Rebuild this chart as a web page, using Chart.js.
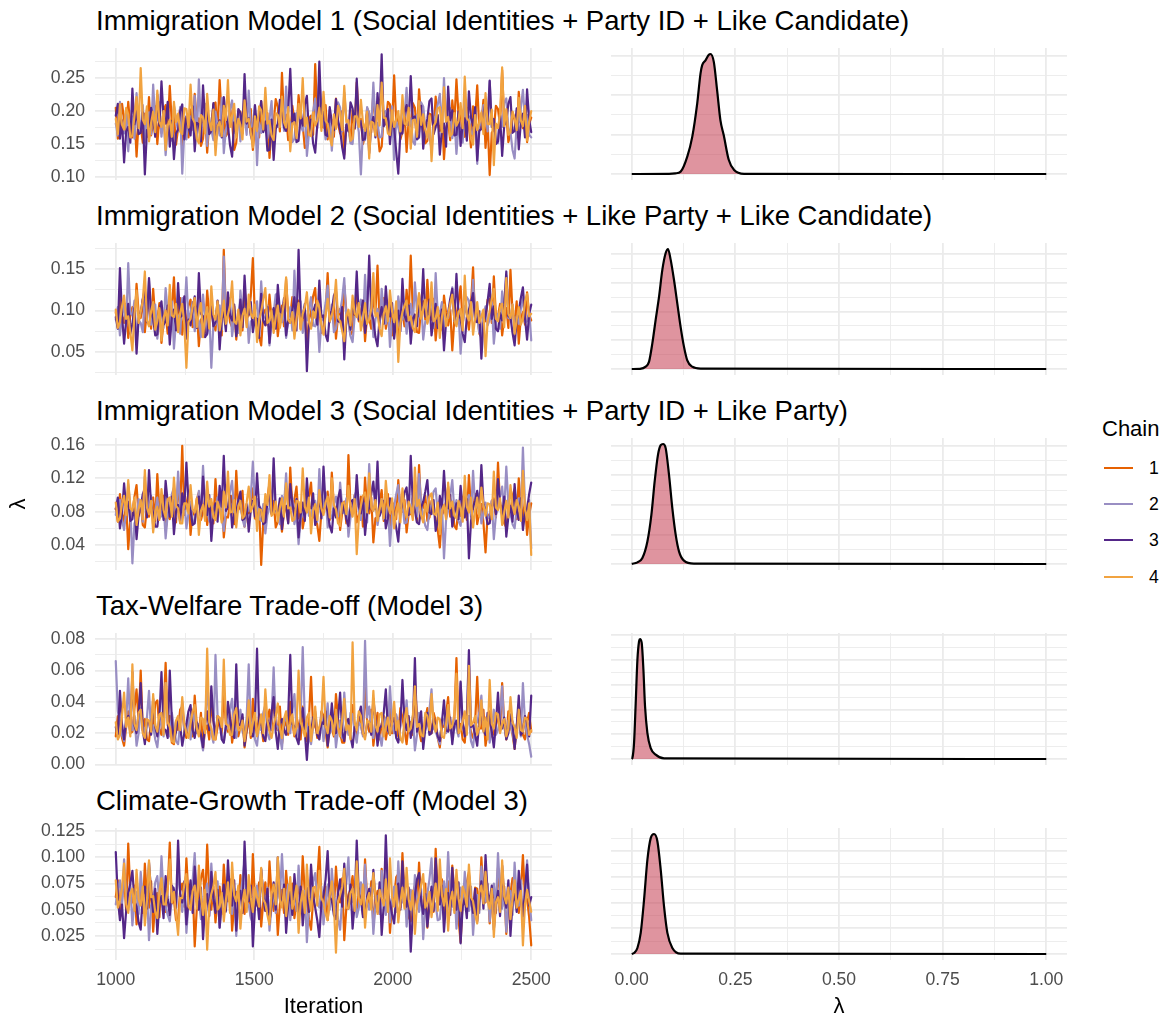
<!DOCTYPE html>
<html>
<head>
<meta charset="utf-8">
<title>MCMC traces and posterior densities of lambda</title>
<script src="https://cdn.jsdelivr.net/npm/chart.js@4.4.1/dist/chart.umd.min.js"></script>
<style>
  body { margin: 0; background: #fff; }
  #fig { position: relative; width: 1166px; height: 1017px; overflow: hidden;
         font-family: "Liberation Sans", Arial, Helvetica, sans-serif; color: #000; }
  #fig canvas { position: absolute; }
  .title { position: absolute; left: 96px; font-size: 27.5px; line-height: 30px; white-space: nowrap; }
  .axis-title { position: absolute; font-size: 22px; line-height: 26px; text-align: center; white-space: nowrap; }
  .legend-title { position: absolute; left: 1102px; top: 416px; font-size: 22px; line-height: 26px; }
  .legend-key { position: absolute; left: 1104px; width: 29px; height: 2px; }
  .legend-label { position: absolute; left: 1144px; width: 20px; text-align: center; font-size: 17.6px; line-height: 20px; }
</style>
</head>
<body>
<div id="fig"></div>
<script>
const chainColors = ["#e66101", "#998ec3", "#542788", "#f1a340"];
const chainNames = ["1", "2", "3", "4"];

const titles = [
  "Immigration Model 1 (Social Identities + Party ID + Like Candidate)",
  "Immigration Model 2 (Social Identities + Like Party + Like Candidate)",
  "Immigration Model 3 (Social Identities + Party ID + Like Party)",
  "Tax-Welfare Trade-off (Model 3)",
  "Climate-Growth Trade-off (Model 3)"
];

// thinned draws: one value every 7.5 iterations, 1000..2500 (201 per chain)
const iterations = [];
for (let it = 1000; it <= 2500; it += 7.5) iterations.push(it);

// ---- Immigration Model 1 ----
const m1c1 = [
0.205,0.158,0.172,0.211,0.188,0.165,0.214,0.176,0.160,0.199,0.131,0.184,0.178,0.152,0.196,0.170,0.221,0.163,0.183,0.207,
0.150,0.192,0.167,0.201,0.209,0.174,0.238,0.180,0.192,0.149,0.174,0.205,0.143,0.189,0.181,0.160,0.202,0.172,0.226,0.185,
0.189,0.147,0.158,0.197,0.137,0.182,0.176,0.210,0.213,0.168,0.247,0.190,0.195,0.162,0.168,0.206,0.184,0.141,0.152,0.193,
0.199,0.166,0.231,0.187,0.176,0.203,0.141,0.178,0.190,0.160,0.215,0.183,0.171,0.197,0.129,0.175,0.183,0.218,0.206,0.169,
0.258,0.186,0.194,0.156,0.162,0.208,0.185,0.170,0.224,0.191,0.179,0.144,0.148,0.188,0.193,0.164,0.271,0.195,0.212,0.177,
0.175,0.209,0.157,0.190,0.186,0.161,0.219,0.181,0.166,0.200,0.134,0.178,0.180,0.154,0.201,0.173,0.243,0.187,0.188,0.150,
0.163,0.204,0.197,0.168,0.228,0.185,0.173,0.139,0.146,0.192,0.182,0.214,0.210,0.176,0.254,0.183,0.191,0.157,0.169,0.199,
0.138,0.186,0.177,0.212,0.205,0.164,0.233,0.189,0.187,0.151,0.155,0.196,0.194,0.171,0.222,0.180,0.170,0.203,0.127,0.174,
0.184,0.156,0.216,0.182,0.248,0.193,0.198,0.162,0.161,0.205,0.178,0.145,0.207,0.188,0.239,0.172,0.181,0.217,0.144,0.186,
0.103,0.167,0.172,0.208,0.203,0.179,0.262,0.184,0.196,0.153,0.165,0.198,0.186,0.160,0.229,0.190,0.174,0.206,0.153,0.181,
0.190];
const m1c2 = [
0.181,0.163,0.214,0.178,0.166,0.201,0.139,0.187,0.192,0.158,0.227,0.180,0.175,0.209,0.152,0.190,0.198,0.165,0.240,0.184,
0.186,0.213,0.161,0.195,0.133,0.174,0.179,0.155,0.208,0.188,0.169,0.206,0.105,0.168,0.157,0.194,0.191,0.172,0.223,0.160,
0.248,0.182,0.184,0.211,0.147,0.190,0.172,0.156,0.199,0.178,0.163,0.220,0.136,0.171,0.185,0.203,0.216,0.167,0.173,0.196,
0.154,0.189,0.192,0.164,0.231,0.176,0.179,0.208,0.118,0.183,0.167,0.198,0.203,0.159,0.188,0.215,0.145,0.177,0.176,0.202,
0.212,0.170,0.237,0.185,0.183,0.153,0.158,0.197,0.195,0.178,0.170,0.210,0.132,0.166,0.181,0.199,0.219,0.174,0.252,0.187,
0.190,0.157,0.164,0.202,0.140,0.183,0.177,0.213,0.205,0.169,0.228,0.188,0.174,0.151,0.150,0.191,0.187,0.168,0.104,0.172,
0.156,0.206,0.196,0.175,0.243,0.181,0.182,0.160,0.161,0.197,0.200,0.173,0.171,0.207,0.126,0.185,0.175,0.163,0.211,0.192,
0.235,0.179,0.189,0.154,0.149,0.194,0.168,0.213,0.207,0.176,0.180,0.162,0.142,0.186,0.193,0.210,0.226,0.171,0.250,0.183,
0.185,0.204,0.159,0.190,0.135,0.177,0.173,0.152,0.214,0.184,0.192,0.166,0.165,0.201,0.120,0.180,0.178,0.209,0.204,0.169,
0.245,0.182,0.187,0.158,0.151,0.195,0.176,0.212,0.219,0.174,0.168,0.141,0.128,0.179,0.183,0.205,0.232,0.186,0.194,0.164,
0.160];
const m1c3 = [
0.193,0.211,0.158,0.186,0.122,0.169,0.176,0.152,0.234,0.180,0.201,0.165,0.167,0.198,0.104,0.171,0.159,0.205,0.188,0.161,
0.225,0.178,0.245,0.190,0.181,0.214,0.146,0.185,0.127,0.166,0.172,0.200,0.210,0.157,0.192,0.176,0.163,0.207,0.139,0.182,
0.180,0.154,0.239,0.188,0.207,0.165,0.170,0.212,0.149,0.177,0.186,0.160,0.221,0.194,0.178,0.148,0.131,0.183,0.166,0.203,
0.197,0.172,0.256,0.181,0.189,0.163,0.152,0.209,0.174,0.190,0.215,0.168,0.184,0.140,0.141,0.187,0.126,0.173,0.181,0.217,
0.203,0.175,0.170,0.199,0.264,0.184,0.196,0.153,0.155,0.192,0.178,0.210,0.223,0.167,0.187,0.151,0.137,0.179,0.275,0.189,
0.199,0.164,0.162,0.206,0.183,0.171,0.218,0.186,0.171,0.145,0.128,0.180,0.169,0.213,0.204,0.174,0.249,0.182,0.185,0.156,
0.158,0.197,0.136,0.178,0.191,0.160,0.227,0.188,0.286,0.177,0.182,0.203,0.150,0.185,0.175,0.139,0.105,0.168,0.166,0.198,
0.209,0.179,0.253,0.187,0.192,0.157,0.160,0.208,0.143,0.174,0.188,0.215,0.219,0.165,0.176,0.194,0.134,0.172,0.181,0.146,
0.237,0.186,0.201,0.163,0.164,0.199,0.147,0.181,0.189,0.155,0.230,0.190,0.178,0.206,0.125,0.170,0.173,0.196,0.212,0.184,
0.246,0.176,0.188,0.150,0.154,0.193,0.132,0.178,0.185,0.211,0.221,0.167,0.170,0.204,0.142,0.183,0.196,0.160,0.233,0.187,
0.168];
const m1c4 = [
0.188,0.165,0.210,0.179,0.172,0.205,0.195,0.160,0.163,0.193,0.221,0.174,0.265,0.187,0.180,0.207,0.154,0.182,0.199,0.168,
0.231,0.184,0.176,0.200,0.141,0.178,0.187,0.161,0.214,0.183,0.196,0.169,0.165,0.204,0.203,0.175,0.240,0.189,0.182,0.158,
0.151,0.194,0.190,0.166,0.226,0.185,0.171,0.202,0.133,0.177,0.184,0.162,0.208,0.186,0.247,0.176,0.193,0.211,0.160,0.188,
0.179,0.157,0.216,0.184,0.188,0.167,0.145,0.192,0.170,0.207,0.201,0.172,0.235,0.181,0.185,0.163,0.156,0.197,0.194,0.176,
0.222,0.183,0.175,0.206,0.139,0.180,0.183,0.159,0.211,0.189,0.250,0.177,0.190,0.164,0.162,0.198,0.178,0.186,0.205,0.170,
0.229,0.185,0.181,0.160,0.148,0.195,0.173,0.208,0.197,0.171,0.238,0.183,0.186,0.155,0.158,0.192,0.192,0.176,0.217,0.182,
0.170,0.199,0.128,0.184,0.182,0.163,0.209,0.178,0.243,0.190,0.189,0.166,0.164,0.201,0.176,0.187,0.200,0.169,0.224,0.181,
0.179,0.205,0.143,0.186,0.187,0.161,0.215,0.179,0.195,0.172,0.160,0.193,0.124,0.177,0.183,0.204,0.206,0.168,0.236,0.184,
0.191,0.162,0.166,0.197,0.178,0.185,0.212,0.174,0.252,0.189,0.185,0.158,0.149,0.194,0.171,0.183,0.198,0.165,0.227,0.180,
0.180,0.202,0.118,0.181,0.174,0.196,0.266,0.177,0.203,0.164,0.168,0.199,0.189,0.171,0.220,0.186,0.177,0.208,0.155,0.184,
0.200];

// ---- Immigration Model 2 ----
const m2c1 = [
0.098,0.079,0.121,0.093,0.085,0.108,0.067,0.095,0.104,0.082,0.132,0.097,0.091,0.113,0.074,0.101,0.110,0.078,0.126,0.090,
0.088,0.109,0.061,0.087,0.095,0.072,0.117,0.099,0.140,0.084,0.099,0.115,0.071,0.094,0.084,0.106,0.113,0.080,0.081,0.102,
0.057,0.089,0.092,0.074,0.124,0.096,0.103,0.083,0.076,0.111,0.089,0.070,0.173,0.098,0.109,0.086,0.080,0.105,0.065,0.093,
0.097,0.076,0.128,0.091,0.094,0.118,0.163,0.088,0.087,0.069,0.058,0.096,0.101,0.082,0.119,0.090,0.083,0.107,0.069,0.092,
0.106,0.081,0.138,0.095,0.093,0.116,0.072,0.100,0.112,0.078,0.086,0.104,0.054,0.089,0.098,0.117,0.127,0.085,0.104,0.073,
0.079,0.096,0.145,0.090,0.091,0.110,0.066,0.093,0.102,0.080,0.130,0.099,0.088,0.071,0.075,0.106,0.116,0.087,0.095,0.112,
0.063,0.094,0.090,0.078,0.121,0.097,0.154,0.086,0.100,0.115,0.078,0.092,0.108,0.070,0.085,0.103,0.059,0.088,0.096,0.081,
0.125,0.093,0.166,0.098,0.092,0.074,0.073,0.105,0.111,0.089,0.137,0.095,0.089,0.114,0.064,0.091,0.099,0.077,0.118,0.097,
0.082,0.101,0.052,0.090,0.094,0.110,0.129,0.084,0.105,0.096,0.077,0.107,0.152,0.088,0.097,0.072,0.068,0.099,0.087,0.113,
0.114,0.085,0.141,0.094,0.093,0.108,0.070,0.090,0.103,0.079,0.149,0.097,0.086,0.111,0.060,0.092,0.098,0.083,0.122,0.095,
0.088];
const m2c2 = [
0.089,0.104,0.070,0.092,0.109,0.081,0.157,0.097,0.094,0.112,0.063,0.088,0.085,0.074,0.118,0.096,0.136,0.083,0.092,0.107,
0.066,0.090,0.101,0.079,0.127,0.098,0.080,0.111,0.054,0.087,0.093,0.072,0.115,0.095,0.140,0.086,0.098,0.110,0.075,0.093,
0.087,0.068,0.119,0.091,0.071,0.099,0.031,0.084,0.083,0.102,0.106,0.077,0.165,0.094,0.100,0.115,0.069,0.089,0.090,0.073,
0.124,0.096,0.095,0.108,0.061,0.087,0.082,0.100,0.111,0.078,0.135,0.093,0.091,0.106,0.058,0.085,0.097,0.119,0.121,0.089,
0.086,0.101,0.067,0.088,0.104,0.076,0.148,0.095,0.096,0.111,0.073,0.090,0.088,0.102,0.116,0.082,0.081,0.098,0.050,0.087,
0.092,0.109,0.130,0.086,0.107,0.074,0.078,0.097,0.099,0.114,0.139,0.091,0.087,0.069,0.062,0.093,0.094,0.105,0.113,0.082,
0.143,0.094,0.090,0.112,0.068,0.089,0.102,0.079,0.126,0.097,0.084,0.108,0.056,0.090,0.095,0.075,0.117,0.096,0.089,0.104,
0.072,0.091,0.108,0.083,0.134,0.099,0.093,0.113,0.065,0.087,0.086,0.101,0.120,0.079,0.145,0.095,0.097,0.110,0.074,0.092,
0.091,0.106,0.128,0.088,0.083,0.099,0.048,0.085,0.100,0.116,0.112,0.090,0.137,0.096,0.092,0.073,0.069,0.094,0.105,0.082,
0.089,0.110,0.060,0.087,0.096,0.078,0.123,0.098,0.142,0.091,0.090,0.107,0.071,0.093,0.084,0.102,0.115,0.086,0.087,0.100,
0.064];
const m2c3 = [
0.092,0.078,0.151,0.095,0.060,0.088,0.108,0.072,0.084,0.103,0.048,0.091,0.097,0.114,0.125,0.086,0.139,0.098,0.090,0.070,
0.071,0.100,0.111,0.083,0.087,0.106,0.059,0.093,0.101,0.076,0.133,0.092,0.094,0.117,0.066,0.089,0.082,0.102,0.117,0.079,
0.145,0.096,0.093,0.068,0.072,0.099,0.105,0.081,0.086,0.112,0.053,0.090,0.098,0.075,0.122,0.094,0.088,0.107,0.069,0.087,
0.113,0.080,0.142,0.097,0.095,0.110,0.074,0.091,0.090,0.067,0.120,0.088,0.082,0.104,0.061,0.093,0.103,0.078,0.131,0.099,
0.097,0.115,0.070,0.089,0.085,0.101,0.116,0.076,0.173,0.094,0.091,0.108,0.027,0.085,0.080,0.098,0.107,0.083,0.136,0.092,
0.094,0.071,0.063,0.096,0.099,0.118,0.124,0.087,0.086,0.104,0.041,0.090,0.092,0.077,0.110,0.095,0.147,0.089,0.096,0.112,
0.073,0.093,0.166,0.098,0.089,0.068,0.057,0.091,0.104,0.084,0.129,0.097,0.093,0.109,0.066,0.088,0.100,0.075,0.138,0.094,
0.087,0.106,0.060,0.090,0.095,0.081,0.119,0.096,0.150,0.093,0.091,0.113,0.070,0.089,0.108,0.079,0.083,0.101,0.052,0.086,
0.097,0.114,0.126,0.088,0.144,0.095,0.090,0.072,0.062,0.092,0.101,0.109,0.121,0.087,0.086,0.099,0.042,0.084,0.094,0.111,
0.132,0.090,0.105,0.078,0.075,0.097,0.088,0.106,0.147,0.093,0.092,0.073,0.058,0.089,0.099,0.115,0.128,0.091,0.065,0.096,
0.107];
const m2c4 = [
0.101,0.079,0.086,0.105,0.118,0.090,0.093,0.074,0.052,0.096,0.124,0.085,0.098,0.112,0.147,0.088,0.081,0.099,0.110,0.077,
0.087,0.103,0.064,0.091,0.100,0.082,0.131,0.094,0.092,0.108,0.074,0.097,0.108,0.083,0.031,0.086,0.090,0.104,0.115,0.080,
0.097,0.109,0.068,0.092,0.104,0.078,0.129,0.095,0.089,0.111,0.076,0.093,0.112,0.084,0.095,0.106,0.135,0.087,0.084,0.101,
0.070,0.094,0.102,0.080,0.119,0.096,0.091,0.107,0.062,0.088,0.099,0.113,0.127,0.085,0.088,0.100,0.073,0.092,0.106,0.079,
0.093,0.110,0.140,0.089,0.085,0.098,0.066,0.090,0.109,0.077,0.096,0.104,0.122,0.086,0.078,0.099,0.091,0.112,0.103,0.083,
0.071,0.095,0.114,0.087,0.094,0.106,0.137,0.091,0.087,0.075,0.063,0.094,0.101,0.082,0.118,0.097,0.092,0.109,0.076,0.090,
0.109,0.084,0.089,0.102,0.145,0.093,0.097,0.078,0.069,0.096,0.105,0.087,0.124,0.099,0.086,0.111,0.038,0.085,0.098,0.106,
0.112,0.088,0.093,0.079,0.074,0.100,0.121,0.090,0.101,0.113,0.084,0.095,0.134,0.087,0.090,0.104,0.067,0.092,0.107,0.081,
0.095,0.108,0.119,0.089,0.081,0.098,0.102,0.076,0.142,0.094,0.088,0.110,0.071,0.091,0.110,0.085,0.093,0.101,0.045,0.087,
0.099,0.114,0.126,0.090,0.087,0.103,0.108,0.080,0.139,0.096,0.091,0.107,0.072,0.089,0.104,0.083,0.090,0.111,0.120,0.093,
0.096];

// ---- Immigration Model 3 ----
const m3c1 = [
0.084,0.068,0.101,0.079,0.066,0.092,0.035,0.071,0.079,0.098,0.112,0.075,0.090,0.064,0.061,0.086,0.074,0.094,0.097,0.069,
0.125,0.082,0.083,0.099,0.058,0.077,0.071,0.093,0.094,0.067,0.117,0.081,0.159,0.076,0.088,0.103,0.052,0.080,0.076,0.095,
0.103,0.070,0.080,0.096,0.064,0.083,0.091,0.066,0.119,0.078,0.085,0.101,0.049,0.074,0.073,0.090,0.099,0.065,0.129,0.082,
0.087,0.105,0.062,0.079,0.078,0.093,0.108,0.072,0.070,0.087,0.016,0.068,0.082,0.097,0.114,0.077,0.093,0.061,0.068,0.084,
0.056,0.080,0.086,0.067,0.133,0.083,0.095,0.110,0.072,0.089,0.060,0.075,0.089,0.098,0.115,0.073,0.079,0.064,0.045,0.081,
0.081,0.096,0.104,0.070,0.127,0.087,0.076,0.092,0.058,0.079,0.092,0.066,0.148,0.085,0.084,0.100,0.067,0.076,0.098,0.062,
0.121,0.083,0.078,0.097,0.043,0.072,0.074,0.089,0.106,0.069,0.087,0.101,0.063,0.080,0.090,0.071,0.118,0.085,0.080,0.094,
0.055,0.078,0.077,0.096,0.102,0.068,0.136,0.082,0.085,0.099,0.069,0.073,0.093,0.087,0.071,0.058,0.037,0.076,0.081,0.092,
0.110,0.074,0.088,0.063,0.059,0.086,0.075,0.097,0.101,0.070,0.124,0.084,0.083,0.101,0.065,0.079,0.089,0.067,0.031,0.077,
0.072,0.093,0.096,0.073,0.139,0.088,0.086,0.066,0.061,0.082,0.078,0.099,0.107,0.071,0.120,0.085,0.074,0.093,0.052,0.076,
0.090];
const m3c2 = [
0.076,0.092,0.094,0.070,0.058,0.081,0.113,0.087,0.018,0.066,0.071,0.095,0.089,0.068,0.122,0.084,0.082,0.099,0.063,0.079,
0.097,0.072,0.075,0.090,0.048,0.077,0.086,0.101,0.109,0.074,0.128,0.085,0.079,0.093,0.060,0.078,0.092,0.067,0.070,0.088,
0.105,0.080,0.135,0.091,0.084,0.069,0.066,0.086,0.078,0.097,0.100,0.073,0.057,0.082,0.088,0.104,0.117,0.079,0.073,0.094,
0.091,0.071,0.062,0.083,0.081,0.098,0.140,0.086,0.095,0.072,0.069,0.089,0.054,0.076,0.085,0.100,0.111,0.081,0.077,0.065,
0.099,0.087,0.126,0.079,0.083,0.096,0.065,0.078,0.041,0.070,0.080,0.093,0.102,0.075,0.074,0.088,0.093,0.068,0.131,0.083,
0.087,0.103,0.061,0.077,0.072,0.090,0.098,0.074,0.115,0.086,0.078,0.096,0.050,0.073,0.084,0.099,0.106,0.080,0.070,0.091,
0.089,0.067,0.137,0.085,0.081,0.094,0.064,0.079,0.095,0.071,0.073,0.088,0.039,0.075,0.086,0.101,0.112,0.078,0.090,0.066,
0.067,0.084,0.079,0.097,0.103,0.074,0.125,0.089,0.076,0.063,0.058,0.082,0.088,0.104,0.108,0.077,0.071,0.092,0.024,0.070,
0.082,0.099,0.118,0.080,0.094,0.069,0.063,0.087,0.077,0.095,0.100,0.074,0.129,0.086,0.085,0.102,0.066,0.079,0.091,0.072,
0.074,0.093,0.047,0.076,0.083,0.098,0.110,0.081,0.134,0.089,0.078,0.065,0.060,0.084,0.096,0.075,0.157,0.087,0.072,0.094,
0.036];
const m3c3 = [
0.083,0.097,0.060,0.078,0.114,0.085,0.092,0.069,0.071,0.090,0.047,0.076,0.086,0.101,0.108,0.073,0.130,0.088,0.078,0.062,
0.062,0.084,0.095,0.070,0.117,0.091,0.074,0.098,0.053,0.080,0.088,0.067,0.102,0.083,0.139,0.092,0.081,0.064,0.066,0.087,
0.098,0.075,0.122,0.089,0.076,0.100,0.045,0.079,0.090,0.068,0.111,0.086,0.147,0.081,0.085,0.099,0.061,0.077,0.079,0.094,
0.104,0.070,0.072,0.089,0.056,0.082,0.093,0.074,0.126,0.087,0.082,0.065,0.067,0.091,0.100,0.078,0.144,0.083,0.077,0.096,
0.059,0.081,0.087,0.066,0.113,0.090,0.075,0.095,0.049,0.076,0.091,0.069,0.120,0.085,0.084,0.102,0.064,0.079,0.097,0.072,
0.134,0.088,0.080,0.063,0.055,0.084,0.073,0.096,0.106,0.078,0.089,0.071,0.063,0.092,0.094,0.080,0.124,0.086,0.078,0.098,
0.052,0.079,0.085,0.101,0.116,0.083,0.140,0.075,0.082,0.093,0.060,0.072,0.096,0.088,0.074,0.061,0.044,0.080,0.088,0.103,
0.109,0.076,0.147,0.090,0.081,0.067,0.065,0.085,0.092,0.104,0.118,0.079,0.077,0.094,0.057,0.070,0.099,0.083,0.129,0.087,
0.084,0.100,0.062,0.078,0.090,0.071,0.111,0.086,0.073,0.095,0.024,0.068,0.086,0.093,0.105,0.076,0.136,0.089,0.080,0.065,
0.066,0.085,0.094,0.077,0.119,0.091,0.076,0.098,0.050,0.074,0.087,0.068,0.113,0.082,0.070,0.096,0.058,0.079,0.083,0.101,
0.115];
const m3c4 = [
0.091,0.068,0.072,0.089,0.099,0.076,0.118,0.084,0.081,0.097,0.064,0.083,0.094,0.071,0.130,0.085,0.077,0.093,0.055,0.080,
0.086,0.070,0.107,0.082,0.073,0.095,0.097,0.074,0.121,0.087,0.084,0.066,0.066,0.090,0.090,0.078,0.112,0.083,0.079,0.096,
0.052,0.081,0.088,0.069,0.116,0.086,0.095,0.073,0.070,0.092,0.083,0.067,0.104,0.085,0.128,0.079,0.080,0.094,0.061,0.087,
0.093,0.072,0.075,0.091,0.110,0.080,0.087,0.098,0.057,0.083,0.082,0.068,0.101,0.088,0.124,0.075,0.078,0.092,0.068,0.085,
0.096,0.074,0.114,0.084,0.085,0.069,0.071,0.093,0.092,0.079,0.132,0.086,0.079,0.097,0.054,0.081,0.089,0.070,0.106,0.084,
0.076,0.091,0.098,0.073,0.120,0.088,0.083,0.066,0.063,0.090,0.091,0.077,0.111,0.085,0.074,0.095,0.029,0.072,0.087,0.099,
0.103,0.079,0.126,0.086,0.081,0.094,0.069,0.083,0.095,0.072,0.117,0.088,0.078,0.096,0.060,0.080,0.090,0.067,0.108,0.084,
0.073,0.092,0.085,0.070,0.133,0.087,0.094,0.076,0.067,0.089,0.080,0.098,0.102,0.078,0.076,0.091,0.053,0.082,0.088,0.071,
0.115,0.084,0.092,0.075,0.072,0.093,0.084,0.068,0.123,0.086,0.079,0.097,0.061,0.081,0.097,0.074,0.109,0.088,0.075,0.090,
0.089,0.071,0.128,0.085,0.082,0.096,0.064,0.079,0.093,0.073,0.112,0.087,0.077,0.094,0.086,0.069,0.129,0.083,0.070,0.090,
0.028];

// ---- Tax-Welfare Trade-off ----
const m4c1 = [
0.018,0.031,0.026,0.017,0.012,0.024,0.034,0.020,0.021,0.036,0.048,0.027,0.060,0.022,0.029,0.016,0.015,0.028,0.023,0.039,
0.041,0.023,0.019,0.032,0.065,0.025,0.031,0.014,0.013,0.027,0.022,0.035,0.037,0.021,0.017,0.030,0.027,0.018,0.044,0.025,
0.020,0.033,0.010,0.022,0.025,0.016,0.039,0.028,0.016,0.024,0.029,0.019,0.046,0.026,0.021,0.034,0.014,0.023,0.033,0.018,
0.024,0.030,0.011,0.021,0.030,0.017,0.042,0.026,0.019,0.032,0.026,0.015,0.016,0.029,0.035,0.022,0.048,0.025,0.022,0.037,
0.013,0.024,0.028,0.019,0.040,0.027,0.018,0.031,0.024,0.016,0.037,0.022,0.015,0.030,0.056,0.023,0.027,0.017,0.019,0.034,
0.031,0.021,0.011,0.026,0.023,0.018,0.045,0.029,0.020,0.014,0.014,0.027,0.029,0.021,0.038,0.024,0.017,0.032,0.025,0.019,
0.050,0.028,0.021,0.035,0.012,0.023,0.033,0.016,0.026,0.031,0.016,0.024,0.041,0.020,0.023,0.028,0.018,0.036,0.030,0.022,
0.013,0.026,0.027,0.019,0.053,0.030,0.022,0.015,0.015,0.029,0.036,0.021,0.020,0.033,0.028,0.017,0.011,0.025,0.024,0.032,
0.043,0.022,0.019,0.029,0.068,0.024,0.026,0.016,0.014,0.031,0.031,0.020,0.017,0.027,0.056,0.023,0.023,0.035,0.012,0.021,
0.034,0.018,0.020,0.030,0.028,0.022,0.052,0.026,0.016,0.034,0.025,0.019,0.010,0.024,0.038,0.029,0.019,0.016,0.027,0.033,
0.021];
const m4c2 = [
0.066,0.034,0.028,0.019,0.015,0.027,0.055,0.023,0.022,0.031,0.012,0.020,0.036,0.025,0.019,0.030,0.047,0.021,0.025,0.016,
0.011,0.024,0.030,0.018,0.052,0.028,0.018,0.033,0.024,0.015,0.013,0.026,0.040,0.022,0.021,0.032,0.016,0.027,0.033,0.020,
0.026,0.017,0.009,0.025,0.051,0.029,0.020,0.014,0.070,0.031,0.029,0.019,0.014,0.026,0.023,0.035,0.042,0.022,0.017,0.028,
0.035,0.021,0.019,0.030,0.064,0.024,0.027,0.016,0.012,0.026,0.022,0.033,0.038,0.020,0.016,0.029,0.062,0.025,0.024,0.018,
0.010,0.027,0.031,0.022,0.020,0.034,0.045,0.023,0.018,0.030,0.075,0.028,0.026,0.017,0.013,0.024,0.034,0.021,0.021,0.032,
0.015,0.025,0.039,0.020,0.023,0.031,0.011,0.022,0.028,0.017,0.046,0.026,0.019,0.033,0.032,0.021,0.014,0.027,0.025,0.018,
0.079,0.030,0.037,0.023,0.017,0.028,0.022,0.019,0.012,0.025,0.030,0.021,0.050,0.027,0.020,0.032,0.027,0.016,0.015,0.024,
0.041,0.022,0.024,0.031,0.009,0.019,0.033,0.026,0.018,0.022,0.026,0.035,0.048,0.023,0.021,0.017,0.013,0.028,0.029,0.020,
0.037,0.025,0.016,0.029,0.023,0.018,0.052,0.027,0.019,0.024,0.031,0.015,0.011,0.026,0.027,0.033,0.044,0.021,0.020,0.029,
0.014,0.023,0.035,0.019,0.022,0.030,0.050,0.024,0.017,0.028,0.026,0.020,0.012,0.025,0.030,0.018,0.052,0.027,0.019,0.013,
0.005];
const m4c3 = [
0.024,0.018,0.047,0.026,0.016,0.029,0.031,0.021,0.059,0.025,0.020,0.033,0.052,0.022,0.013,0.027,0.027,0.019,0.042,0.024,
0.018,0.030,0.059,0.023,0.022,0.017,0.060,0.028,0.015,0.021,0.030,0.025,0.012,0.020,0.026,0.034,0.038,0.022,0.017,0.027,
0.023,0.019,0.011,0.026,0.034,0.022,0.050,0.028,0.019,0.031,0.028,0.016,0.014,0.024,0.040,0.029,0.021,0.017,0.064,0.026,
0.025,0.032,0.012,0.023,0.033,0.020,0.018,0.028,0.074,0.025,0.027,0.018,0.015,0.029,0.022,0.033,0.043,0.021,0.010,0.026,
0.029,0.022,0.019,0.031,0.070,0.026,0.024,0.017,0.013,0.028,0.036,0.021,0.003,0.024,0.021,0.030,0.032,0.019,0.016,0.027,
0.026,0.034,0.012,0.022,0.039,0.025,0.020,0.030,0.046,0.021,0.015,0.028,0.029,0.018,0.011,0.024,0.023,0.031,0.037,0.020,
0.018,0.026,0.027,0.019,0.042,0.029,0.012,0.023,0.025,0.033,0.048,0.022,0.019,0.027,0.030,0.017,0.014,0.025,0.054,0.028,
0.022,0.031,0.017,0.024,0.068,0.021,0.026,0.034,0.010,0.023,0.033,0.019,0.020,0.029,0.024,0.018,0.015,0.027,0.041,0.022,
0.021,0.030,0.013,0.025,0.028,0.020,0.053,0.026,0.018,0.031,0.073,0.024,0.025,0.019,0.012,0.028,0.035,0.022,0.019,0.033,
0.029,0.021,0.011,0.026,0.046,0.023,0.023,0.030,0.016,0.020,0.032,0.027,0.010,0.024,0.044,0.019,0.021,0.031,0.027,0.018,
0.044];
const m4c4 = [
0.027,0.016,0.019,0.031,0.046,0.024,0.030,0.018,0.064,0.026,0.022,0.033,0.035,0.020,0.017,0.029,0.028,0.021,0.045,0.025,
0.021,0.032,0.033,0.019,0.052,0.027,0.024,0.015,0.014,0.028,0.031,0.022,0.043,0.026,0.020,0.017,0.026,0.034,0.038,0.023,
0.018,0.030,0.029,0.020,0.074,0.027,0.023,0.016,0.016,0.031,0.030,0.024,0.067,0.026,0.025,0.019,0.019,0.032,0.036,0.022,
0.022,0.028,0.015,0.025,0.041,0.019,0.027,0.033,0.018,0.024,0.032,0.020,0.048,0.028,0.021,0.017,0.025,0.031,0.039,0.023,
0.017,0.029,0.034,0.021,0.026,0.032,0.019,0.024,0.060,0.027,0.023,0.018,0.030,0.033,0.015,0.026,0.037,0.020,0.024,0.030,
0.056,0.025,0.020,0.031,0.028,0.019,0.035,0.023,0.018,0.029,0.042,0.022,0.025,0.016,0.078,0.027,0.022,0.034,0.031,0.020,
0.016,0.028,0.027,0.021,0.047,0.025,0.021,0.032,0.033,0.018,0.024,0.030,0.019,0.026,0.040,0.022,0.028,0.017,0.014,0.029,
0.036,0.021,0.023,0.031,0.050,0.024,0.026,0.019,0.018,0.033,0.031,0.022,0.045,0.027,0.021,0.030,0.029,0.018,0.017,0.026,
0.038,0.023,0.025,0.032,0.058,0.020,0.022,0.028,0.034,0.019,0.063,0.025,0.027,0.031,0.019,0.024,0.041,0.021,0.030,0.016,
0.054,0.026,0.023,0.033,0.032,0.020,0.026,0.029,0.018,0.023,0.043,0.027,0.024,0.017,0.035,0.022,0.021,0.030,0.029,0.019,
0.022];

// ---- Climate-Growth Trade-off ----
const m5c1 = [
0.062,0.078,0.045,0.059,0.081,0.049,0.113,0.066,0.057,0.073,0.036,0.055,0.070,0.047,0.094,0.061,0.052,0.077,0.029,0.058,
0.066,0.043,0.085,0.064,0.048,0.071,0.114,0.056,0.060,0.040,0.041,0.068,0.075,0.053,0.099,0.062,0.055,0.074,0.015,0.051,
0.063,0.080,0.088,0.057,0.112,0.065,0.050,0.072,0.038,0.060,0.072,0.046,0.093,0.063,0.058,0.079,0.030,0.054,0.067,0.048,
0.083,0.061,0.046,0.070,0.061,0.044,0.103,0.059,0.054,0.076,0.034,0.057,0.076,0.050,0.096,0.064,0.049,0.069,0.026,0.055,
0.069,0.047,0.087,0.062,0.056,0.075,0.042,0.058,0.079,0.050,0.101,0.066,0.059,0.041,0.031,0.060,0.065,0.078,0.110,0.057,
0.053,0.072,0.040,0.061,0.074,0.049,0.091,0.063,0.057,0.080,0.021,0.052,0.064,0.070,0.082,0.056,0.047,0.068,0.071,0.045,
0.098,0.060,0.055,0.077,0.035,0.058,0.068,0.046,0.089,0.062,0.051,0.073,0.028,0.055,0.062,0.081,0.084,0.052,0.104,0.064,
0.058,0.043,0.039,0.066,0.073,0.051,0.095,0.060,0.052,0.075,0.033,0.057,0.066,0.048,0.108,0.063,0.060,0.079,0.044,0.061,
0.077,0.054,0.092,0.068,0.054,0.041,0.019,0.059,0.063,0.076,0.086,0.057,0.048,0.071,0.070,0.050,0.100,0.063,0.057,0.074,
0.037,0.059,0.069,0.047,0.090,0.064,0.053,0.072,0.027,0.055,0.065,0.080,0.081,0.058,0.047,0.068,0.102,0.061,0.060,0.043,
0.016];
const m5c2 = [
0.055,0.070,0.078,0.052,0.098,0.063,0.050,0.074,0.035,0.058,0.067,0.046,0.086,0.061,0.044,0.069,0.021,0.054,0.060,0.076,
0.082,0.057,0.101,0.064,0.053,0.045,0.039,0.062,0.071,0.051,0.090,0.066,0.048,0.073,0.028,0.056,0.064,0.078,0.104,0.060,
0.058,0.041,0.042,0.065,0.075,0.053,0.094,0.059,0.051,0.077,0.033,0.055,0.068,0.048,0.084,0.062,0.046,0.070,0.025,0.057,
0.062,0.079,0.097,0.058,0.055,0.042,0.037,0.061,0.073,0.052,0.088,0.064,0.049,0.071,0.030,0.054,0.066,0.047,0.081,0.060,
0.103,0.065,0.056,0.074,0.040,0.059,0.070,0.049,0.092,0.063,0.047,0.068,0.019,0.053,0.061,0.077,0.085,0.057,0.052,0.072,
0.036,0.058,0.074,0.050,0.089,0.062,0.054,0.041,0.031,0.060,0.067,0.075,0.100,0.056,0.058,0.069,0.043,0.052,0.076,0.061,
0.093,0.057,0.050,0.071,0.027,0.054,0.063,0.046,0.087,0.064,0.045,0.073,0.038,0.059,0.072,0.048,0.096,0.062,0.057,0.078,
0.034,0.055,0.069,0.044,0.083,0.061,0.048,0.070,0.022,0.053,0.065,0.079,0.099,0.058,0.055,0.040,0.041,0.063,0.077,0.056,
0.105,0.066,0.053,0.074,0.032,0.057,0.071,0.050,0.086,0.063,0.049,0.072,0.026,0.055,0.064,0.047,0.091,0.061,0.058,0.075,
0.039,0.060,0.075,0.052,0.104,0.067,0.051,0.070,0.029,0.056,0.068,0.045,0.095,0.062,0.054,0.078,0.035,0.059,0.097,0.063,
0.040];
const m5c3 = [
0.105,0.061,0.040,0.055,0.023,0.049,0.066,0.075,0.087,0.058,0.053,0.038,0.031,0.064,0.072,0.051,0.095,0.067,0.048,0.070,
0.027,0.056,0.063,0.042,0.082,0.060,0.045,0.073,0.069,0.052,0.116,0.065,0.057,0.077,0.036,0.059,0.078,0.047,0.091,0.062,
0.050,0.071,0.022,0.054,0.065,0.044,0.086,0.061,0.047,0.069,0.033,0.057,0.074,0.049,0.097,0.063,0.054,0.078,0.030,0.060,
0.068,0.047,0.115,0.066,0.058,0.073,0.015,0.052,0.062,0.041,0.089,0.063,0.049,0.070,0.038,0.056,0.076,0.050,0.100,0.061,
0.056,0.074,0.028,0.055,0.067,0.045,0.084,0.060,0.046,0.072,0.035,0.058,0.071,0.048,0.093,0.064,0.052,0.040,0.024,0.057,
0.064,0.079,0.106,0.062,0.059,0.045,0.041,0.066,0.079,0.053,0.094,0.061,0.051,0.074,0.032,0.056,0.116,0.065,0.060,0.043,
0.043,0.063,0.070,0.052,0.088,0.059,0.048,0.076,0.026,0.054,0.121,0.067,0.057,0.046,0.037,0.062,0.075,0.050,0.096,0.061,
0.053,0.071,0.010,0.047,0.063,0.079,0.085,0.058,0.046,0.065,0.034,0.055,0.072,0.049,0.099,0.064,0.055,0.073,0.029,0.057,
0.066,0.045,0.090,0.062,0.050,0.076,0.018,0.053,0.061,0.042,0.083,0.060,0.047,0.070,0.039,0.058,0.077,0.051,0.102,0.066,
0.058,0.073,0.031,0.055,0.068,0.044,0.092,0.061,0.052,0.078,0.025,0.057,0.065,0.048,0.087,0.063,0.044,0.069,0.093,0.054,
0.062];
const m5c4 = [
0.078,0.052,0.059,0.071,0.094,0.056,0.047,0.066,0.070,0.049,0.088,0.060,0.054,0.072,0.035,0.058,0.097,0.062,0.063,0.048,
0.042,0.067,0.080,0.055,0.055,0.070,0.098,0.057,0.067,0.046,0.026,0.061,0.061,0.074,0.084,0.053,0.050,0.068,0.073,0.051,
0.092,0.063,0.045,0.069,0.012,0.054,0.065,0.072,0.086,0.050,0.053,0.066,0.039,0.059,0.076,0.047,0.095,0.064,0.058,0.073,
0.032,0.057,0.069,0.048,0.083,0.062,0.048,0.071,0.062,0.053,0.090,0.060,0.056,0.045,0.036,0.065,0.074,0.055,0.100,0.059,
0.052,0.070,0.044,0.063,0.081,0.051,0.060,0.073,0.028,0.057,0.068,0.047,0.093,0.062,0.049,0.071,0.072,0.054,0.087,0.061,
0.057,0.046,0.040,0.064,0.077,0.055,0.009,0.058,0.064,0.072,0.089,0.052,0.051,0.066,0.070,0.049,0.096,0.061,0.055,0.074,
0.033,0.059,0.066,0.050,0.085,0.063,0.046,0.069,0.061,0.054,0.079,0.048,0.099,0.062,0.053,0.073,0.038,0.057,0.071,0.051,
0.090,0.060,0.050,0.068,0.027,0.055,0.063,0.074,0.084,0.052,0.057,0.067,0.043,0.060,0.075,0.049,0.098,0.064,0.054,0.070,
0.030,0.058,0.067,0.047,0.088,0.061,0.049,0.072,0.065,0.053,0.093,0.062,0.058,0.045,0.037,0.066,0.073,0.056,0.086,0.059,
0.051,0.070,0.024,0.057,0.062,0.048,0.097,0.063,0.056,0.071,0.041,0.060,0.078,0.052,0.060,0.068,0.016,0.055,0.069,0.058,
0.048];

// ---- posterior densities of lambda (pooled chains) ----
const m1DensX = [0, 0.09, 0.105, 0.118, 0.134, 0.146, 0.158, 0.166, 0.170, 0.178, 0.186, 0.190, 0.198, 0.206, 0.214, 0.222, 0.234, 0.247, 0.271, 1.0];
const m1DensY = [0, 0.02, 0.08, 0.3, 2.2, 4.7, 8.95, 12.75, 13.8, 14.4, 15.1, 15.2, 14.2, 10.6, 6.8, 4.9, 1.8, 0.5, 0.02, 0];
const m2DensX = [0, 0.02, 0.0337, 0.0418, 0.0498, 0.0578, 0.0659, 0.0739, 0.0819, 0.0876, 0.094, 0.102, 0.110, 0.118, 0.126, 0.134, 0.146, 0.166, 1.0];
const m2DensY = [0, 0.03, 0.41, 1.28, 4.5, 8.6, 12.6, 17.3, 20.2, 20.9, 19.0, 15.5, 11.4, 7.3, 3.9, 1.5, 0.4, 0.06, 0];
const m3DensX = [0, 0.0137, 0.0257, 0.0378, 0.0474, 0.0554, 0.0634, 0.0699, 0.0755, 0.0819, 0.0899, 0.098, 0.106, 0.114, 0.126, 0.150, 1.0];
const m3DensY = [0.02, 0.28, 1.0, 3.8, 8.3, 14.0, 18.5, 20.1, 20.3, 19.6, 15.1, 9.4, 4.96, 2.14, 0.56, 0.05, 0];
const m4DensX = [0, 0.0016, 0.0056, 0.0096, 0.0137, 0.0177, 0.020, 0.0241, 0.0281, 0.0321, 0.0378, 0.0458, 0.0578, 0.078, 1.0];
const m4DensY = [0, 0.4, 6.5, 22.6, 40.1, 47.6, 48.5, 46.9, 36.4, 21.3, 10.5, 4.4, 1.75, 0.27, 0];
const m5DensX = [0, 0.0056, 0.0137, 0.0217, 0.0297, 0.0378, 0.0458, 0.0538, 0.0619, 0.0699, 0.078, 0.086, 0.098, 0.118, 1.0];
const m5DensY = [0, 0.19, 1.17, 4.1, 10.5, 18.3, 22.5, 23.3, 21.9, 16.4, 9.2, 4.1, 1.17, 0.06, 0];

// ---- ticks ----
const iterTicks = [1000, 1500, 2000, 2500];
const iterLabels = ["1000", "1500", "2000", "2500"];
const iterMinor = [1250, 1750, 2250];
const lambdaTicks = [0, 0.25, 0.5, 0.75, 1];
const lambdaLabels = ["0.00", "0.25", "0.50", "0.75", "1.00"];
const lambdaMinor = [0.125, 0.375, 0.625, 0.875];

const m1Ticks = [0.10, 0.15, 0.20, 0.25], m1Labels = ["0.10", "0.15", "0.20", "0.25"], m1Minor = [0.125, 0.175, 0.225, 0.275];
const m2Ticks = [0.05, 0.10, 0.15], m2Labels = ["0.05", "0.10", "0.15"], m2Minor = [0.025, 0.075, 0.125, 0.175];
const m3Ticks = [0.04, 0.08, 0.12, 0.16], m3Labels = ["0.04", "0.08", "0.12", "0.16"], m3Minor = [0.02, 0.06, 0.10, 0.14];
const m4Ticks = [0, 0.02, 0.04, 0.06, 0.08], m4Labels = ["0.00", "0.02", "0.04", "0.06", "0.08"], m4Minor = [0.01, 0.03, 0.05, 0.07];
const m5Ticks = [0.025, 0.05, 0.075, 0.10, 0.125], m5Labels = ["0.025", "0.050", "0.075", "0.100", "0.125"], m5Minor = [0.0125, 0.0375, 0.0625, 0.0875, 0.1125];

const densTicks20 = [0, 5, 10, 15, 20], densMinor20 = [2.5, 7.5, 12.5, 17.5, 22.5];
const densTicks50 = [0, 10, 20, 30, 40, 50], densMinor50 = [5, 15, 25, 35, 45];

const rows = [
  { chains: [m1c1, m1c2, m1c3, m1c4], yMin: 0.0955, yMax: 0.2955, ticks: m1Ticks, labels: m1Labels, minor: m1Minor,
    densX: m1DensX, densY: m1DensY, dMin: -0.76, dMax: 15.96, dTicks: densTicks20, dMinor: densMinor20 },
  { chains: [m2c1, m2c2, m2c3, m2c4], yMin: 0.0223, yMax: 0.1813, ticks: m2Ticks, labels: m2Labels, minor: m2Minor,
    densX: m2DensX, densY: m2DensY, dMin: -1.045, dMax: 21.945, dTicks: densTicks20, dMinor: densMinor20 },
  { chains: [m3c1, m3c2, m3c3, m3c4], yMin: 0.010, yMax: 0.1684, ticks: m3Ticks, labels: m3Labels, minor: m3Minor,
    densX: m3DensX, densY: m3DensY, dMin: -1.015, dMax: 21.315, dTicks: densTicks20, dMinor: densMinor20 },
  { chains: [m4c1, m4c2, m4c3, m4c4], yMin: -0.0003, yMax: 0.084, ticks: m4Ticks, labels: m4Labels, minor: m4Minor,
    densX: m4DensX, densY: m4DensY, dMin: -2.425, dMax: 50.925, dTicks: densTicks50, dMinor: densMinor50 },
  { chains: [m5c1, m5c2, m5c3, m5c4], yMin: 0.0021, yMax: 0.1279, ticks: m5Ticks, labels: m5Labels, minor: m5Minor,
    densX: m5DensX, densY: m5DensY, dMin: -1.165, dMax: 24.465, dTicks: densTicks20, dMinor: densMinor20 }
];

// ---- layout ----
const fig = document.getElementById("fig");
const panelTop0 = 48, rowStep = 195, panelH = 132, pad = 12;
const traceW = 552, traceAxisW = 95;
const densLeft = 611, densW = 456;
const xAxisH = 45;
const FONT = "'Liberation Sans', Arial, Helvetica, sans-serif";
const GRID = "#ebebeb";

function addDiv(cls, text, css) {
  const d = document.createElement("div");
  d.className = cls;
  d.textContent = text;
  Object.assign(d.style, css);
  fig.appendChild(d);
  return d;
}

function addCanvas(left, top, w, h) {
  const c = document.createElement("canvas");
  c.width = w; c.height = h;
  c.style.left = left + "px"; c.style.top = top + "px";
  c.style.width = w + "px"; c.style.height = h + "px";
  fig.appendChild(c);
  return c.getContext("2d");
}

function setTicks(values) {
  return (axis) => { axis.ticks = values.map(v => ({ value: v })); };
}

function fixBox(prop, size) {
  return (axis) => {
    axis[prop] = size;
    axis.paddingLeft = 0; axis.paddingRight = 0;
    axis.paddingTop = 0; axis.paddingBottom = 0;
  };
}

function gridOpts(majors) {
  return {
    color: GRID,
    drawTicks: false,
    lineWidth: (ctx) => (ctx.tick && majors.includes(ctx.tick.value)) ? 1.8 : 0.9
  };
}

function labelFor(majors, labels) {
  return (v) => { const i = majors.indexOf(v); return i < 0 ? "" : labels[i]; };
}

const tickFont = { family: FONT, size: 17.6 };

function xScale(min, max, majors, labels, minor, showLabels) {
  return {
    type: "linear", min, max,
    afterBuildTicks: setTicks(majors.concat(minor).sort((a, b) => a - b)),
    afterFit: fixBox("height", showLabels ? xAxisH : 0),
    grid: gridOpts(majors),
    border: { display: false },
    ticks: { display: showLabels, autoSkip: false, maxRotation: 0, padding: 10,
             color: "#4d4d4d", font: tickFont, callback: labelFor(majors, labels) }
  };
}

rows.forEach((row, k) => {
  const last = k === rows.length - 1;
  const top = panelTop0 + k * rowStep;
  const canvasTop = top - pad;
  const canvasH = pad + panelH + (last ? xAxisH : pad);

  addDiv("title", titles[k], { top: (top - 42) + "px" });

  // trace plot
  const traceCtx = addCanvas(0, canvasTop, traceW, canvasH);
  new Chart(traceCtx, {
    type: "line",
    data: {
      datasets: row.chains.map((vals, i) => ({
        label: chainNames[i],
        data: vals.map((v, j) => ({ x: iterations[j], y: v })),
        borderColor: chainColors[i],
        borderWidth: 2.2,
        borderJoinStyle: "round",
        borderCapStyle: "round",
        pointRadius: 0,
        tension: 0,
        order: row.chains.length - 1 - i
      }))
    },
    options: {
      responsive: false, animation: false, events: [],
      layout: { padding: { top: pad, bottom: last ? 0 : pad, left: 0, right: 0 } },
      plugins: { legend: { display: false }, tooltip: { enabled: false } },
      scales: {
        x: xScale(925, 2575, iterTicks, iterLabels, iterMinor, last),
        y: {
          type: "linear", min: row.yMin, max: row.yMax,
          afterBuildTicks: setTicks(row.ticks.concat(row.minor).sort((a, b) => a - b)),
          afterFit: fixBox("width", traceAxisW),
          grid: gridOpts(row.ticks),
          border: { display: false },
          ticks: { autoSkip: false, padding: 10, color: "#4d4d4d", font: tickFont,
                   callback: labelFor(row.ticks, row.labels) }
        }
      }
    }
  });

  // density plot
  const densCtx = addCanvas(densLeft, canvasTop, densW, canvasH);
  new Chart(densCtx, {
    type: "line",
    data: {
      datasets: [{
        data: row.densX.map((x, j) => ({ x, y: row.densY[j] })),
        borderColor: "#000",
        borderWidth: 2.2,
        backgroundColor: "rgba(196, 60, 80, 0.55)",
        fill: "origin",
        pointRadius: 0,
        cubicInterpolationMode: "monotone"
      }]
    },
    options: {
      responsive: false, animation: false, events: [],
      layout: { padding: { top: pad, bottom: last ? 0 : pad, left: 0, right: 0 } },
      plugins: { legend: { display: false }, tooltip: { enabled: false } },
      scales: {
        x: xScale(-0.05, 1.05, lambdaTicks, lambdaLabels, lambdaMinor, last),
        y: {
          type: "linear", min: row.dMin, max: row.dMax,
          afterBuildTicks: setTicks(row.dTicks.concat(row.dMinor).filter(v => v <= row.dMax).sort((a, b) => a - b)),
          afterFit: fixBox("width", 0),
          grid: gridOpts(row.dTicks),
          border: { display: false },
          ticks: { display: false }
        }
      }
    }
  });
});

// axis titles
addDiv("axis-title", "Iteration", { left: (traceAxisW - 100 + (traceW - traceAxisW) / 2) + "px", width: "200px", top: "993px" });
addDiv("axis-title", "λ", { left: (densLeft - 100 + densW / 2) + "px", width: "200px", top: "993px" });
addDiv("axis-title", "λ", { left: "-82px", width: "200px", top: "491px", transform: "rotate(-90deg)" });

// legend
addDiv("legend-title", "Chain", {});
const legendY = [468, 504, 540, 577];
chainNames.forEach((name, i) => {
  addDiv("legend-key", "", { top: (legendY[i] - 1) + "px", background: chainColors[i] });
  addDiv("legend-label", name, { top: (legendY[i] - 10) + "px" });
});
</script>
</body>
</html>
